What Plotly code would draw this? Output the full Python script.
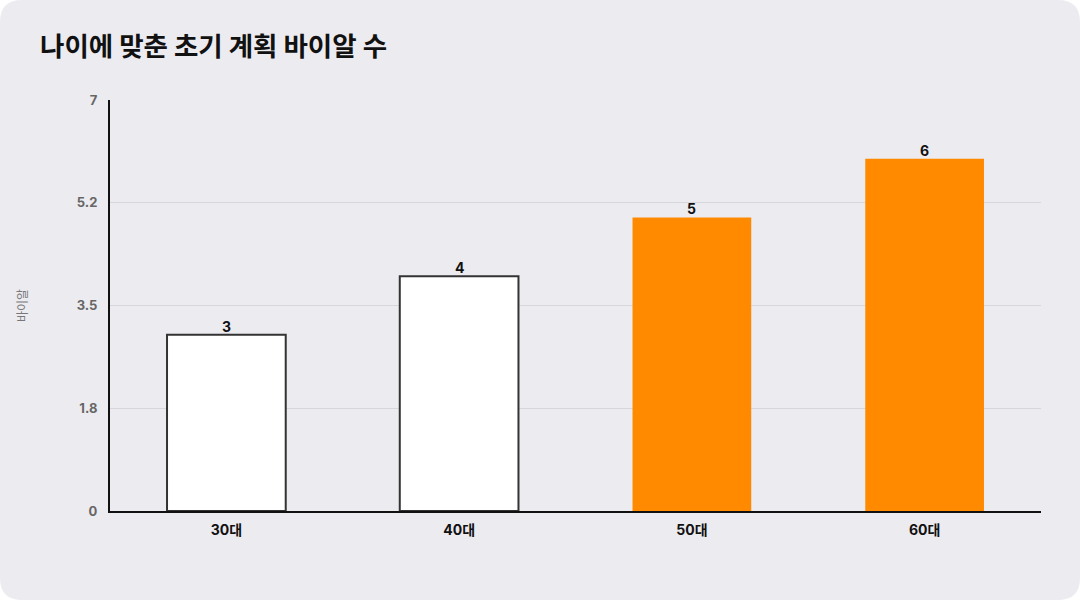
import plotly.graph_objects as go

categories = ["30대", "40대", "50대", "60대"]
values = [3, 4, 5, 6]
bar_colors = ["#FFFFFF", "#FFFFFF", "#FF8A00", "#FF8A00"]
line_colors = ["#333333", "#333333", "rgba(0,0,0,0)", "rgba(0,0,0,0)"]
line_widths = [2, 2, 0, 0]
tick_vals = [0, 1.75, 3.5, 5.25, 7]
tick_text = ["0", "1.8", "3.5", "5.2", "7"]
title_text = "나이에 맞춘 초기 계획 바이알 수"
y_title = "바이알"

W, H = 1080, 600
ML, MR, MT, MB = 110, 39, 100, 89
PW, PH = W - ML - MR, H - MT - MB
BG = "#ECEBF0"

def px_to_paper(x, y):
    return (x - ML) / PW, (H - MB - y) / PH

def rounded_rect_path(x0, y0, x1, y1, r):
    def P(x, y):
        a, b = px_to_paper(x, y)
        return f"{a:.5f},{b:.5f}"
    d = f"M {P(x0 + r, y0)} L {P(x1 - r, y0)} Q {P(x1, y0)} {P(x1, y0 + r)} "
    d += f"L {P(x1, y1 - r)} Q {P(x1, y1)} {P(x1 - r, y1)} "
    d += f"L {P(x0 + r, y1)} Q {P(x0, y1)} {P(x0, y1 - r)} "
    d += f"L {P(x0, y0 + r)} Q {P(x0, y0)} {P(x0 + r, y0)} Z"
    return d

FONT = "Inter, 'Noto Sans CJK KR', sans-serif"

fig = go.Figure(go.Bar(
    x=categories,
    y=values,
    marker=dict(color=bar_colors, line=dict(color=line_colors, width=line_widths)),
    cliponaxis=False,
    hoverinfo="x+y",
))

annotations = [
    dict(x=c, y=v, xref="x", yref="y", text=str(v), showarrow=False,
         yanchor="bottom", yshift=-2,
         font=dict(family=FONT, size=14, color="#111111", weight="bold"))
    for c, v in zip(categories, values)
]

fig.update_layout(
    width=W, height=H,
    margin=dict(l=ML, r=MR, t=MT, b=MB, pad=0),
    paper_bgcolor="#FFFFFF",
    plot_bgcolor="rgba(0,0,0,0)",
    bargap=0.49,
    showlegend=False,
    annotations=annotations,
    title=dict(
        text=title_text,
        x=40 / W, xanchor="left",
        y=1 - 47 / H, yanchor="middle",
        font=dict(family="'Noto Sans CJK KR', sans-serif", size=26.5, color="#111111", weight="bold"),
    ),
    shapes=[dict(
        type="path", xref="paper", yref="paper",
        path=rounded_rect_path(0, 0, W, H, 22),
        fillcolor=BG, line=dict(width=0), layer="below",
    )],
    xaxis=dict(
        showline=True, linecolor="#111111", linewidth=2,
        showgrid=False, ticks="",
        tickfont=dict(family=FONT, size=14, color="#111111", weight="bold"),
        ticklabelstandoff=5,
    ),
    yaxis=dict(
        range=[0, 7],
        tickvals=tick_vals, ticktext=tick_text,
        showline=True, linecolor="#111111", linewidth=2,
        showgrid=True, gridcolor="#D7D6DC", gridwidth=1,
        zeroline=False, ticks="",
        tickfont=dict(family=FONT, size=13, color="#666666", weight="bold"),
        ticklabelstandoff=8,
        title=dict(text=y_title, standoff=47,
                   font=dict(family="'Noto Sans CJK KR', sans-serif", size=12, color="#777777")),
    ),
)

fig.write_html(
    "out.html",
    config={"displayModeBar": False},
    post_script="document.body.style.margin='0';document.body.style.overflow='hidden';",
)
